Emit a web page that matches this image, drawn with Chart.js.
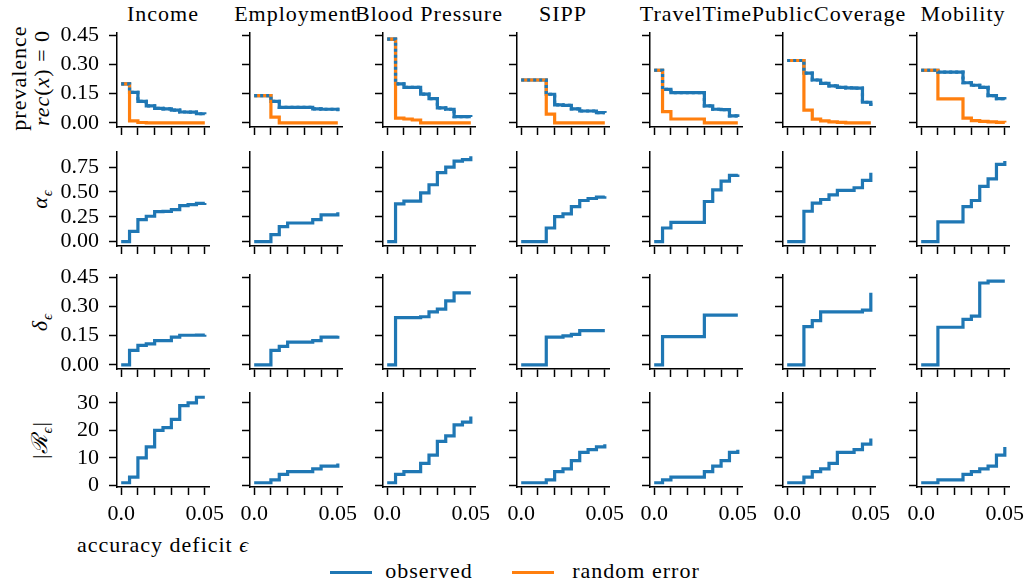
<!DOCTYPE html>
<html>
<head>
<meta charset="utf-8">
<script src="https://cdn.jsdelivr.net/npm/chart.js@4.4.0/dist/chart.umd.min.js"></script>
<style>
  body { margin: 0; width: 1026px; height: 586px; background: #fff; position: relative; overflow: hidden;
         font-family: "Liberation Serif", "Times New Roman", serif; color: #000; }
  .cell { position: absolute; }
  .txt { position: absolute; white-space: nowrap; font-size: 22px; letter-spacing: 1px; line-height: 1; transform: translate(-50%, -50%); }
  .rot { transform: translate(-50%, -50%) rotate(-90deg); }
  .key { position: absolute; height: 3px; }
</style>
</head>
<body>
<div class="txt" style="left:163px;top:14px">Income</div>
<div class="txt" style="left:296px;top:14px">Employment</div>
<div class="txt" style="left:429px;top:14px">Blood Pressure</div>
<div class="txt" style="left:563px;top:14px">SIPP</div>
<div class="txt" style="left:696px;top:14px">TravelTime</div>
<div class="txt" style="left:829px;top:14px">PublicCoverage</div>
<div class="txt" style="left:963px;top:14px">Mobility</div>

<div class="txt rot" style="left:19px;top:78px">prevalence</div>
<div class="txt rot" style="left:42px;top:78px"><i>rec</i>(<i>x</i>) = 0</div>
<div class="txt rot" style="left:42px;top:199px"><i>α</i><sub style="font-size:15px"><i>ϵ</i></sub></div>
<div class="txt rot" style="left:42px;top:322px"><i>δ</i><sub style="font-size:15px"><i>ϵ</i></sub></div>
<div class="txt rot" style="left:42px;top:440px">|<i>ℛ</i><sub style="font-size:15px"><i>ϵ</i></sub>|</div>
<div class="txt" style="left:163px;top:545px">accuracy deficit <i>ϵ</i></div>

<div class="key" style="left:330px;top:571px;width:42px;background:#1f77b4"></div>
<div class="txt" style="left:429px;top:571px">observed</div>
<div class="key" style="left:512px;top:571px;width:42px;background:#ff7f0e"></div>
<div class="txt" style="left:636px;top:571px">random error</div>

<script>
const tasks = ['Income', 'Employment', 'Blood Pressure', 'SIPP', 'TravelTime', 'PublicCoverage', 'Mobility'];
const eps = [0, 0.005, 0.01, 0.015, 0.02, 0.025, 0.03, 0.035, 0.04, 0.045, 0.05];
const xTicks = [0, 0.01, 0.02, 0.03, 0.04, 0.05];
const xTickLabels = ['0.0', '', '', '', '', '0.05'];

// prevalence of rec(x) = 0, observed vs random error
const prevObserved = [
  [0.20, 0.157, 0.11, 0.087, 0.075, 0.072, 0.066, 0.056, 0.055, 0.047, 0.045],
  [0.14, 0.14, 0.11, 0.08, 0.08, 0.08, 0.08, 0.072, 0.07, 0.07, 0.06],
  [0.43, 0.20, 0.182, 0.182, 0.148, 0.124, 0.077, 0.07, 0.032, 0.032, 0.03],
  [0.22, 0.22, 0.22, 0.147, 0.092, 0.09, 0.072, 0.061, 0.061, 0.053, 0.052],
  [0.27, 0.172, 0.155, 0.155, 0.155, 0.155, 0.087, 0.07, 0.068, 0.036, 0.03],
  [0.32, 0.32, 0.255, 0.22, 0.203, 0.19, 0.182, 0.18, 0.178, 0.106, 0.087],
  [0.27, 0.27, 0.26, 0.26, 0.26, 0.206, 0.193, 0.182, 0.14, 0.124, 0.12]
];
const prevRandom = [
  [0.20, 0.01, 0.002, 0, 0, 0, 0, 0, 0, 0, 0],
  [0.14, 0.14, 0.03, 0, 0, 0, 0, 0, 0, 0, 0],
  [0.43, 0.024, 0.02, 0.015, 0, 0, 0, 0, 0, 0, 0],
  [0.22, 0.22, 0.22, 0.045, 0, 0, 0, 0, 0, 0, 0],
  [0.27, 0.058, 0.02, 0.02, 0.02, 0.02, 0, 0, 0, 0, 0],
  [0.32, 0.32, 0.066, 0.019, 0.01, 0.005, 0.003, 0, 0, 0, 0],
  [0.27, 0.27, 0.123, 0.123, 0.123, 0.024, 0.012, 0.008, 0.005, 0.003, 0.002]
];
const alphaEps = [
  [0, 0.104, 0.222, 0.256, 0.303, 0.305, 0.323, 0.363, 0.373, 0.385, 0.39],
  [0, 0, 0.071, 0.151, 0.188, 0.188, 0.188, 0.222, 0.269, 0.269, 0.296],
  [0, 0.38, 0.407, 0.407, 0.491, 0.572, 0.693, 0.75, 0.81, 0.824, 0.858],
  [0, 0, 0, 0.138, 0.252, 0.279, 0.353, 0.414, 0.434, 0.447, 0.457],
  [0, 0.138, 0.195, 0.195, 0.195, 0.195, 0.404, 0.521, 0.609, 0.666, 0.676],
  [0, 0, 0.306, 0.387, 0.424, 0.471, 0.515, 0.515, 0.542, 0.616, 0.693],
  [0, 0, 0.2, 0.2, 0.2, 0.353, 0.414, 0.555, 0.632, 0.777, 0.81]
];
const deltaEps = [
  [0, 0.074, 0.1, 0.108, 0.125, 0.125, 0.142, 0.152, 0.152, 0.153, 0.154],
  [0, 0, 0.074, 0.095, 0.117, 0.117, 0.117, 0.125, 0.142, 0.142, 0.149],
  [0, 0.242, 0.242, 0.242, 0.247, 0.272, 0.286, 0.328, 0.369, 0.369, 0.369],
  [0, 0, 0, 0.142, 0.142, 0.149, 0.157, 0.176, 0.176, 0.176, 0.176],
  [0, 0.145, 0.145, 0.145, 0.145, 0.145, 0.255, 0.255, 0.255, 0.255, 0.255],
  [0, 0, 0.196, 0.227, 0.272, 0.272, 0.272, 0.272, 0.272, 0.281, 0.37],
  [0, 0, 0.193, 0.193, 0.193, 0.233, 0.25, 0.42, 0.43, 0.43, 0.43]
];
const regionCount = [
  [1, 3, 10, 14, 20, 21, 24, 29, 30, 32, 32],
  [1, 1, 2, 4, 5, 5, 5, 6, 7, 7, 8],
  [1, 4, 5, 5, 8, 11, 16, 18, 22, 23, 25],
  [1, 1, 1, 2, 5, 6, 9, 12, 13, 14, 15],
  [1, 2, 3, 3, 3, 3, 5, 7, 9, 12, 13],
  [1, 1, 3, 5, 6, 8, 12, 12, 13, 15, 17],
  [1, 1, 2, 2, 2, 4, 5, 6, 7, 11, 14]
];

const prevTicks = [0, 0.15, 0.30, 0.45];
const prevTickLabels = ['0.00', '0.15', '0.30', '0.45'];
const alphaTicks = [0, 0.25, 0.5, 0.75];
const alphaTickLabels = ['0.00', '0.25', '0.50', '0.75'];
const countTicks = [0, 10, 20, 30];
const countTickLabels = ['0', '10', '20', '30'];

const rows = [
  { obs: prevObserved, rnd: prevRandom, min: -0.021, max: 0.461, ticks: prevTicks, labels: prevTickLabels },
  { obs: alphaEps, min: -0.043, max: 0.901, ticks: alphaTicks, labels: alphaTickLabels },
  { obs: deltaEps, min: -0.021, max: 0.461, ticks: prevTicks, labels: prevTickLabels },
  { obs: regionCount, min: -0.55, max: 33.55, ticks: countTicks, labels: countTickLabels }
];

const BLUE = '#1f77b4', ORANGE = '#ff7f0e';
const colX = [117, 250, 383, 517, 650, 783, 917];
const rowTop = [33, 152, 275, 393];
const plotW = 92, plotH = 94;
const padL = 70, padT = 16, padR = 30, padB = 40;
const tickFont = { family: '"Liberation Serif", "Times New Roman", serif', size: 22 };

function pts(vals) {
  return eps.map((e, i) => ({ x: e, y: vals[i] }));
}

function line(vals, color, order, dash) {
  return {
    data: pts(vals), borderColor: color, borderWidth: 3.2, stepped: true,
    pointRadius: 0, fill: false, order: order, borderDash: dash || [],
    borderCapStyle: 'butt', borderJoinStyle: 'miter'
  };
}

function axisStyle() {
  return {
    grid: { drawOnChartArea: false, drawTicks: true, tickLength: 8, tickWidth: 1.5, tickColor: '#000' },
    border: { display: true, color: '#000', width: 1.5 }
  };
}

// fixed axis sizes, and no extra room asked for by the tick labels
function fixSize(s, w, h) {
  if (w) s.width = w;
  if (h) s.height = h;
  s.paddingTop = s.paddingBottom = s.paddingLeft = s.paddingRight = 0;
}

rows.forEach((row, r) => {
  tasks.forEach((task, c) => {
    const div = document.createElement('div');
    div.className = 'cell';
    div.style.left = (colX[c] - padL) + 'px';
    div.style.top = (rowTop[r] - padT) + 'px';
    const cv = document.createElement('canvas');
    cv.width = padL + plotW + padR;
    cv.height = padT + plotH + padB;
    div.appendChild(cv);
    document.body.appendChild(div);

    const sets = [line(row.obs[c], BLUE, 3)];
    if (row.rnd) {
      sets.push(line(row.rnd[c], ORANGE, 2));
      // dotted blue on top so the overlapping part shows both colours
      sets.push(line(row.obs[c], BLUE, 1, [3, 3]));
    }

    new Chart(cv, {
      type: 'line',
      data: { datasets: sets },
      options: {
        responsive: false,
        animation: false,
        devicePixelRatio: 1,
        layout: { autoPadding: false, padding: { top: padT, right: padR, left: 0, bottom: 0 } },
        plugins: { legend: { display: false }, tooltip: { enabled: false } },
        scales: {
          x: Object.assign({
            type: 'linear', min: -0.0025, max: 0.0525,
            afterBuildTicks: s => { s.ticks = xTicks.map(v => ({ value: v })); },
            afterFit: s => fixSize(s, 0, padB),
            ticks: {
              display: r === rows.length - 1, font: tickFont, color: '#000',
              padding: 6, maxRotation: 0, autoSkip: false,
              callback: (v, i) => xTickLabels[i]
            }
          }, axisStyle()),
          y: Object.assign({
            type: 'linear', min: row.min, max: row.max,
            afterBuildTicks: s => { s.ticks = row.ticks.map(v => ({ value: v })); },
            afterFit: s => fixSize(s, padL, 0),
            ticks: {
              display: c === 0, font: tickFont, color: '#000', padding: 10,
              autoSkip: false, callback: (v, i) => row.labels[i]
            }
          }, axisStyle())
        }
      }
    });
  });
});
</script>
</body>
</html>
